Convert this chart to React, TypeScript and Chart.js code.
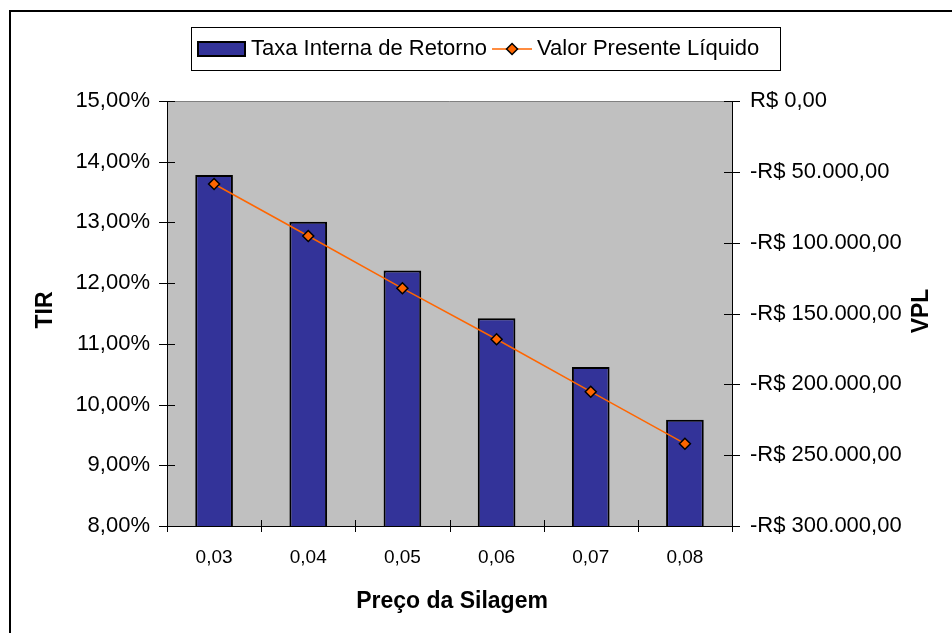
import React, { useEffect, useRef } from 'react';
import { Chart, registerables } from 'chart.js';

Chart.register(...registerables);

const categories = ['0,03', '0,04', '0,05', '0,06', '0,07', '0,08'];
const tirValues = [13.78, 13.01, 12.21, 11.42, 10.62, 9.75];
const vplValues = [-58600, -95300, -132200, -168200, -205200, -241900];
const tirTickLabels = ['8,00%', '9,00%', '10,00%', '11,00%', '12,00%', '13,00%', '14,00%', '15,00%'];
const vplTickLabels = [
  '-R$ 300.000,00',
  '-R$ 250.000,00',
  '-R$ 200.000,00',
  '-R$ 150.000,00',
  '-R$ 100.000,00',
  '-R$ 50.000,00',
  'R$ 0,00',
];
const seriesNames = ['Taxa Interna de Retorno', 'Valor Presente Líquido'];
const xTitle = 'Preço da Silagem';
const yTitle = 'TIR';
const y1Title = 'VPL';

const FONT = "'Liberation Sans', Arial, sans-serif";
const BAR_COLOR = '#333399';
const LINE_COLOR = '#FF6600';

function diamond(ctx: CanvasRenderingContext2D, x: number, y: number, r: number) {
  ctx.beginPath();
  ctx.moveTo(x - r, y);
  ctx.lineTo(x, y - r);
  ctx.lineTo(x + r, y);
  ctx.lineTo(x, y + r);
  ctx.closePath();
  ctx.fillStyle = LINE_COLOR;
  ctx.fill();
  ctx.strokeStyle = '#000';
  ctx.lineWidth = 1.5;
  ctx.stroke();
}

const decorPlugin = {
  id: 'decor',
  beforeDraw(chart: any) {
    const { ctx, chartArea: a } = chart;
    ctx.save();
    ctx.fillStyle = '#ffffff';
    ctx.fillRect(0, 0, chart.width, chart.height);
    ctx.fillStyle = '#C0C0C0';
    ctx.fillRect(a.left, a.top, a.right - a.left, a.bottom - a.top);
    ctx.restore();
  },
  afterDraw(chart: any) {
    const { ctx, chartArea: a } = chart;
    ctx.save();
    // outer chart border
    ctx.strokeStyle = '#000';
    ctx.lineWidth = 2;
    ctx.strokeRect(10, 11, 1200, 1200);

    // plot area top border
    ctx.strokeStyle = '#808080';
    ctx.lineWidth = 1;
    ctx.beginPath();
    ctx.moveTo(a.left, Math.round(a.top) + 0.5);
    ctx.lineTo(a.right, Math.round(a.top) + 0.5);
    ctx.stroke();

    // cross ticks
    ctx.strokeStyle = '#000';
    ctx.lineWidth = 1;
    const ys = chart.scales.y;
    ys.ticks.forEach((t: any) => {
      const p = Math.round(ys.getPixelForValue(t.value)) + 0.5;
      ctx.beginPath();
      ctx.moveTo(a.left - 8, p);
      ctx.lineTo(a.left + 8, p);
      ctx.stroke();
    });
    const y1s = chart.scales.y1;
    y1s.ticks.forEach((t: any) => {
      const p = Math.round(y1s.getPixelForValue(t.value)) + 0.5;
      ctx.beginPath();
      ctx.moveTo(a.right - 8, p);
      ctx.lineTo(a.right + 8, p);
      ctx.stroke();
    });
    const xs = chart.scales.x;
    for (let i = 0; i <= categories.length; i++) {
      const p = Math.round(xs.getPixelForValue(i - 0.5)) + 0.5;
      ctx.beginPath();
      ctx.moveTo(p, a.bottom - 6);
      ctx.lineTo(p, a.bottom + 6);
      ctx.stroke();
    }

    // legend
    ctx.strokeStyle = '#000';
    ctx.lineWidth = 1;
    ctx.strokeRect(191.5, 27.5, 589, 43);
    ctx.fillStyle = BAR_COLOR;
    ctx.fillRect(198, 42, 47, 14);
    ctx.lineWidth = 2;
    ctx.strokeRect(198, 42, 47, 14);
    ctx.font = `22px ${FONT}`;
    ctx.textBaseline = 'middle';
    ctx.textAlign = 'left';
    ctx.fillStyle = '#000';
    const ly = 49;
    ctx.fillText(seriesNames[0], 251, ly);
    let lx = 251 + ctx.measureText(seriesNames[0]).width + 5;
    ctx.strokeStyle = LINE_COLOR;
    ctx.lineWidth = 1.5;
    ctx.beginPath();
    ctx.moveTo(lx, ly);
    ctx.lineTo(lx + 40, ly);
    ctx.stroke();
    diamond(ctx, lx + 20, ly, 5.5);
    ctx.fillStyle = '#000';
    ctx.fillText(seriesNames[1], lx + 45, ly);

    // axis titles
    ctx.font = `bold 23px ${FONT}`;
    ctx.fillStyle = '#000';
    ctx.textAlign = 'center';
    ctx.textBaseline = 'middle';
    ctx.save();
    ctx.translate(46, 310);
    ctx.rotate(-Math.PI / 2);
    ctx.fillText(yTitle, 0, 0);
    ctx.restore();
    ctx.save();
    ctx.translate(922, 311);
    ctx.rotate(-Math.PI / 2);
    ctx.fillText(y1Title, 0, 0);
    ctx.restore();
    ctx.textBaseline = 'alphabetic';
    ctx.fillText(xTitle, 452, 608);
    ctx.restore();
  },
};

export default function App() {
  const ref = useRef<HTMLCanvasElement | null>(null);
  useEffect(() => {
    document.body.style.margin = '0';
    const canvas = ref.current;
    if (!canvas) return;
    const chart = new Chart(canvas, {
      type: 'bar',
      data: {
        labels: categories,
        datasets: [
          {
            type: 'line',
            label: seriesNames[1],
            data: vplValues,
            yAxisID: 'y1',
            borderColor: LINE_COLOR,
            borderWidth: 1.5,
            pointStyle: 'rectRot',
            pointRadius: 5.5,
            pointBackgroundColor: LINE_COLOR,
            pointBorderColor: '#000',
            pointBorderWidth: 1.5,
            tension: 0,
            order: 0,
          } as any,
          {
            type: 'bar',
            label: seriesNames[0],
            data: tirValues,
            yAxisID: 'y',
            backgroundColor: BAR_COLOR,
            borderColor: '#000',
            borderWidth: 2,
            categoryPercentage: 1,
            barPercentage: 0.4,
            order: 1,
          },
        ],
      },
      options: {
        responsive: false,
        animation: false,
        devicePixelRatio: 1,
        layout: { padding: { top: 101, left: 0, right: 0, bottom: 0 } },
        plugins: { legend: { display: false }, tooltip: { enabled: false } },
        scales: {
          x: {
            type: 'category',
            offset: true,
            grid: { display: false, drawTicks: false },
            border: { display: true, color: '#000', width: 1 },
            ticks: { color: '#000', font: { family: FONT, size: 19 }, padding: 20, maxRotation: 0 },
            afterFit: (s: any) => {
              s.height = 107;
            },
          },
          y: {
            type: 'linear',
            position: 'left',
            min: 8,
            max: 15,
            grid: { display: false, drawTicks: false },
            border: { display: true, color: '#000', width: 1 },
            ticks: {
              stepSize: 1,
              color: '#000',
              font: { family: FONT, size: 22 },
              padding: 17,
              callback: (_v: any, i: number) => tirTickLabels[i],
            },
            afterFit: (s: any) => {
              s.width = 167;
            },
          },
          y1: {
            type: 'linear',
            position: 'right',
            min: -300000,
            max: 0,
            grid: { display: false, drawTicks: false },
            border: { display: true, color: '#000', width: 1 },
            ticks: {
              stepSize: 50000,
              color: '#000',
              font: { family: FONT, size: 22 },
              padding: 18,
              callback: (_v: any, i: number) => vplTickLabels[i],
            },
            afterFit: (s: any) => {
              s.width = 220;
            },
          },
        },
      },
      plugins: [decorPlugin],
    });
    return () => chart.destroy();
  }, []);
  return (
    <div style={{ position: 'absolute', left: 0, top: 0, width: 952, height: 633 }}>
      <canvas ref={ref} width={952} height={633} style={{ width: '952px', height: '633px', display: 'block' }} />
    </div>
  );
}
